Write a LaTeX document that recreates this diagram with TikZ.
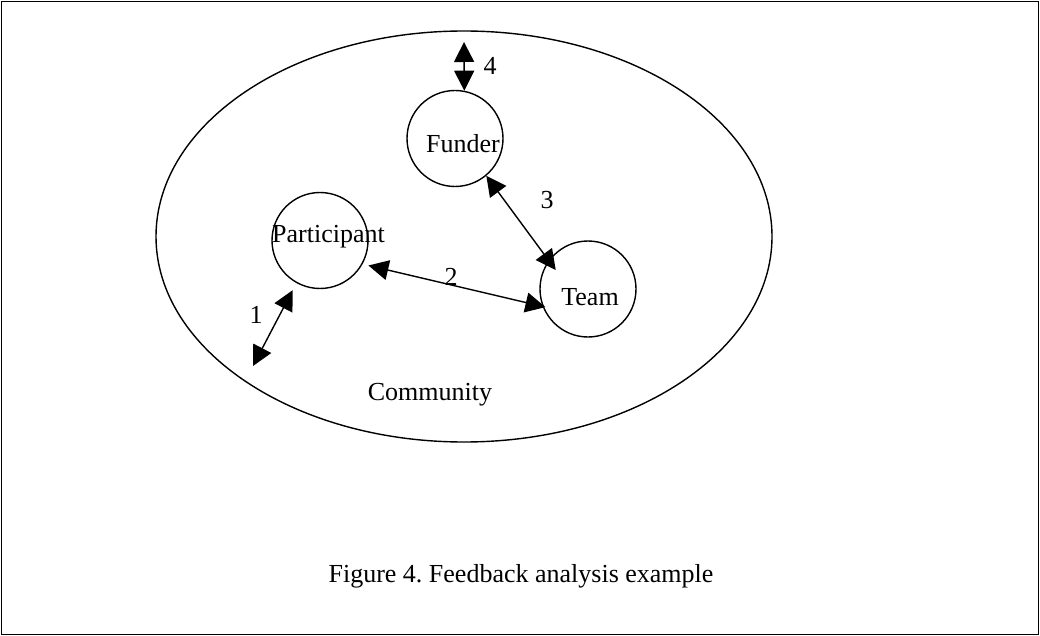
\documentclass[tikz,border=0pt]{standalone}
\usepackage{fontspec}
\setmainfont{Liberation Serif}
\usetikzlibrary{arrows.meta,shapes.geometric}
\begin{document}
\frenchspacing
\begin{tikzpicture}[x=1pt,y=-1pt,
  every node/.style={font=\fontsize{26}{30}\selectfont},
  circ/.style={draw,circle,line width=1.4pt,minimum size=96pt,inner sep=0pt},
  link/.style={line width=1.4pt,{Triangle[length=20pt,width=20pt]}-{Triangle[length=20pt,width=20pt]}},
  lbl/.style={inner sep=0pt,anchor=base}]
\useasboundingbox (0,0) rectangle (1040,636);
\draw[line width=1.6pt] (1.5,1.5) rectangle (1038.5,634.5);
\node[draw,ellipse,line width=1.4pt,minimum width=616pt,minimum height=411pt,inner sep=0pt] (community) at (464,236.5) {};
\node[circ] (funder) at (455,138.5) {};
\node[circ] (part) at (320,240.5) {};
\node[circ] (team) at (588,289) {};
\node[lbl] at (463,153) {Funder};
\node[lbl,anchor=base west] at (272,242) {Participant};
\node[lbl] at (590,305) {Team};
\node[lbl] at (430,400) {Community};
\coordinate (top4) at (464,42);
\coordinate (bot1) at (253,366);
\draw[link] (top4) -- (funder.79);
\draw[link,shorten <=8pt] (part.-119.5) -- (bot1);
\draw[link,shorten <=6pt,shorten >=-3pt] (part.-29) -- (team.-159.4);
\draw[link,shorten >=-12pt] (funder.-50) -- (team.144);
\node[lbl] at (490,75) {4};
\node[lbl] at (256,323) {1};
\node[lbl] at (451,285) {2};
\node[lbl] at (547,208) {3};
\node[lbl] at (521,582) {Figure 4. Feedback analysis example};
\end{tikzpicture}
\end{document}
